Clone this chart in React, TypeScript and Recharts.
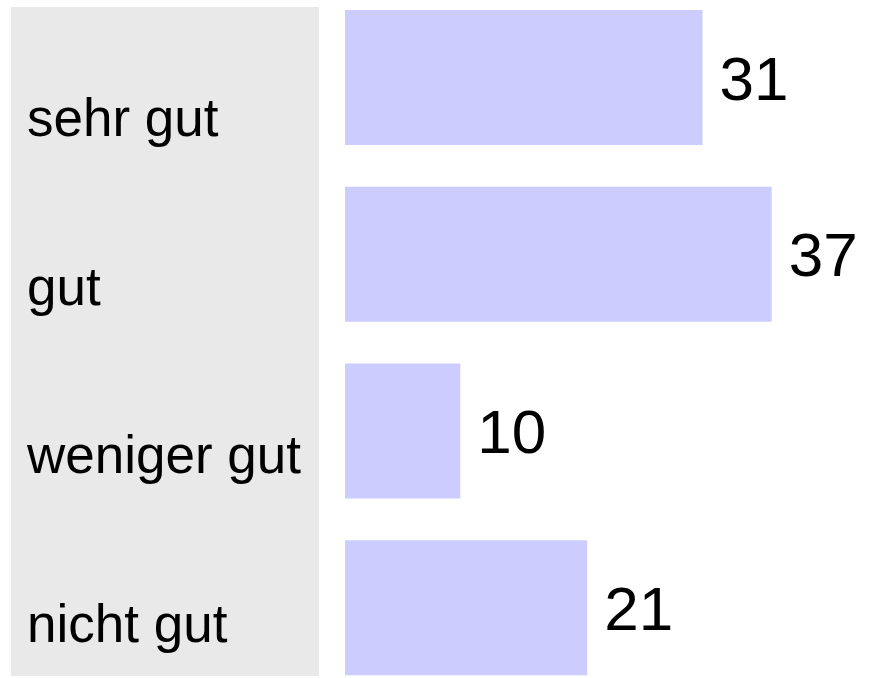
import { BarChart, Bar, XAxis, YAxis, LabelList } from 'recharts';

const categories = ['sehr gut', 'gut', 'weniger gut', 'nicht gut'];
const values = [31, 37, 10, 21];

const data = categories.map((name, i) => ({ name, value: values[i] }));

const FONT = '"Liberation Sans", Arial, Helvetica, sans-serif';

function CategoryTick(props: any) {
  const { y, payload, index } = props;
  return (
    <text x={27} y={y + 58.5 - 8 * index} fontSize={53} fontFamily={FONT} fill="#000" textAnchor="start">
      {payload.value}
    </text>
  );
}

export default function App() {
  return (
    <div style={{ position: 'absolute', left: 0, top: 0, width: 869, height: 678, overflow: 'hidden', background: '#fff' }}>
      <div style={{ position: 'absolute', left: 11, top: 7, width: 308, height: 669, background: '#e9e9e9' }} />
      <div style={{ position: 'absolute', left: 0, top: -11 }}>
        <BarChart
          layout="vertical"
          width={869}
          height={707}
          data={data}
          margin={{ top: 0, right: 5, bottom: 0, left: 0 }}
        >
          <XAxis type="number" domain={[0, 45]} hide />
          <YAxis
            type="category"
            dataKey="name"
            width={345}
            axisLine={false}
            tickLine={false}
            tick={<CategoryTick />}
            interval={0}
          />
          <Bar dataKey="value" fill="#ccccff" barSize={135} isAnimationActive={false}>
            <LabelList dataKey="value" position="right" offset={17} fontSize={62} fontFamily={FONT} fill="#000" />
          </Bar>
        </BarChart>
      </div>
    </div>
  );
}
